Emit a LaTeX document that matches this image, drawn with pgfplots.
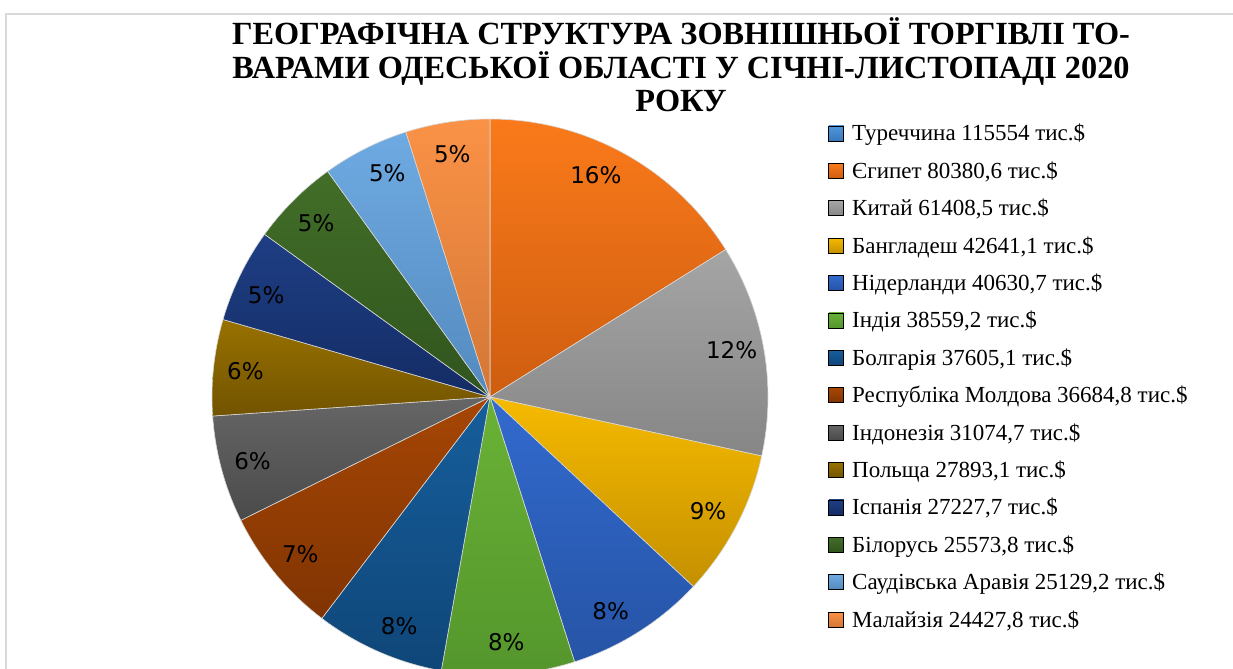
\documentclass[border=0pt]{standalone}
\usepackage{fontspec}
\setmainfont{Liberation Serif}
\newfontfamily\dejavu{DejaVu Sans}
\usepackage{pgfplots}
\pgfplotsset{compat=1.18}

% values, thousand USD
\def\vTurkey{115554}
\def\vEgypt{80380.6}
\def\vChina{61408.5}
\def\vBangladesh{42641.1}
\def\vNetherlands{40630.7}
\def\vIndia{38559.2}
\def\vBulgaria{37605.1}
\def\vMoldova{36684.8}
\def\vIndonesia{31074.7}
\def\vPoland{27893.1}
\def\vSpain{27227.7}
\def\vBelarus{25573.8}
\def\vSaudi{25129.2}
\def\vMalaysia{24427.8}
\edef\total{\fpeval{\vEgypt+\vChina+\vBangladesh+\vNetherlands+\vIndia+\vBulgaria+\vMoldova+\vIndonesia+\vPoland+\vSpain+\vBelarus+\vSaudi+\vMalaysia}}

\definecolor{cTurT}{RGB}{78,150,218}\definecolor{cTurB}{RGB}{58,120,188}
\definecolor{cEgyT}{RGB}{250,122,26}\definecolor{cEgyB}{RGB}{206,93,16}
\definecolor{cChiT}{RGB}{165,165,165}\definecolor{cChiB}{RGB}{134,134,134}
\definecolor{cBanT}{RGB}{246,186,0}\definecolor{cBanB}{RGB}{196,144,0}
\definecolor{cNetT}{RGB}{50,106,206}\definecolor{cNetB}{RGB}{38,84,166}
\definecolor{cIndT}{RGB}{106,178,54}\definecolor{cIndB}{RGB}{84,150,44}
\definecolor{cBulT}{RGB}{22,94,156}\definecolor{cBulB}{RGB}{15,70,120}
\definecolor{cMolT}{RGB}{166,70,4}\definecolor{cMolB}{RGB}{128,52,3}
\definecolor{cInoT}{RGB}{102,102,102}\definecolor{cInoB}{RGB}{74,74,74}
\definecolor{cPolT}{RGB}{152,113,0}\definecolor{cPolB}{RGB}{114,84,0}
\definecolor{cSpaT}{RGB}{30,62,132}\definecolor{cSpaB}{RGB}{20,44,100}
\definecolor{cBelT}{RGB}{66,110,40}\definecolor{cBelB}{RGB}{48,84,30}
\definecolor{cSauT}{RGB}{110,170,226}\definecolor{cSauB}{RGB}{84,138,190}
\definecolor{cMalT}{RGB}{250,146,70}\definecolor{cMalB}{RGB}{212,118,54}
\definecolor{frame}{RGB}{217,217,217}

\newcommand\pctfont{\dejavu\fontsize{11.5pt}{13pt}\selectfont}
\newcommand\legfont{\fontsize{11.5pt}{13pt}\selectfont}
\newcommand\titlefont{\bfseries\fontsize{16.15pt}{17pt}\selectfont}

\def\cum{0}
% #1 offset of the label's angle, #2 value, #3 top colour, #4 bottom colour
\newcommand\slice[4][0]{%
  \edef\sa{\fpeval{\cum/\total*360}}%
  \edef\newcum{\fpeval{\cum+#2}}%
  \edef\sb{\fpeval{\newcum/\total*360}}%
  \xdef\cum{\newcum}%
  \edef\smid{\fpeval{(\sa+\sb)/2+#1}}%
  \edef\lx{\fpeval{490+0.885*278*sind(\smid)}}%
  \edef\ly{\fpeval{397-0.885*278*cosd(\smid)}}%
  \edef\pct{\fpeval{round(100*#2/\total)}}%
  \edef\temp{%
    \noexpand\addplot[top color=#3, bottom color=#4, draw=white!70!gray, line width=0.3pt, domain=\sa:\sb, samples=80, forget plot]
      ({490+278*sin(x)},{397-278*cos(x)}) -- (axis cs:490,397) -- cycle;
    \noexpand\node[font=\noexpand\pctfont, text=black] at (axis cs:\lx,\ly) {\pct\noexpand\%};}%
  \temp}

\begin{document}
\begin{tikzpicture}
\begin{axis}[
  at={(0,0)}, anchor=south west,
  width=616.5pt, height=334.5pt, scale only axis,
  xmin=0, xmax=1233, ymin=0, ymax=669, y dir=reverse,
  hide axis, clip=false,
  legend image code/.code={\path[#1] (0pt,0pt) rectangle (7.5pt,7.5pt);},
  legend style={at={(axis cs:828,124.5)}, anchor=north west, draw=none, fill=none,
    inner sep=0pt, row sep=8.2pt, font=\legfont,
    nodes={inner sep=0pt, text height=8pt, text depth=2.5pt, anchor=base west},
    /tikz/every odd column/.style={column sep=4pt}},
  legend cell align=left,
]
\draw[frame, line width=0.75pt] (axis cs:6,700) -- (axis cs:6,14) -- (axis cs:1300,14);

\slice[-3.5]{\vEgypt}{cEgyT}{cEgyB}
\slice[-1]{\vChina}{cChiT}{cChiB}
\slice{\vBangladesh}{cBanT}{cBanB}
\slice[3]{\vNetherlands}{cNetT}{cNetB}
\slice{\vIndia}{cIndT}{cIndB}
\slice[-2]{\vBulgaria}{cBulT}{cBulB}
\slice{\vMoldova}{cMolT}{cMolB}
\slice{\vIndonesia}{cInoT}{cInoB}
\slice{\vPoland}{cPolT}{cPolB}
\slice[-1.5]{\vSpain}{cSpaT}{cSpaB}
\slice{\vBelarus}{cBelT}{cBelB}
\slice[2]{\vSaudi}{cSauT}{cSauB}
\slice{\vMalaysia}{cMalT}{cMalB}

\addlegendimage{top color=cTurT, bottom color=cTurB}\addlegendentry{Туреччина 115554 тис.\$}
\addlegendimage{top color=cEgyT, bottom color=cEgyB}\addlegendentry{Єгипет 80380,6 тис.\$}
\addlegendimage{top color=cChiT, bottom color=cChiB}\addlegendentry{Китай 61408,5 тис.\$}
\addlegendimage{top color=cBanT, bottom color=cBanB}\addlegendentry{Бангладеш 42641,1 тис.\$}
\addlegendimage{top color=cNetT, bottom color=cNetB}\addlegendentry{Нідерланди 40630,7 тис.\$}
\addlegendimage{top color=cIndT, bottom color=cIndB}\addlegendentry{Індія 38559,2 тис.\$}
\addlegendimage{top color=cBulT, bottom color=cBulB}\addlegendentry{Болгарія 37605,1 тис.\$}
\addlegendimage{top color=cMolT, bottom color=cMolB}\addlegendentry{Республіка Молдова 36684,8 тис.\$}
\addlegendimage{top color=cInoT, bottom color=cInoB}\addlegendentry{Індонезія 31074,7 тис.\$}
\addlegendimage{top color=cPolT, bottom color=cPolB}\addlegendentry{Польща 27893,1 тис.\$}
\addlegendimage{top color=cSpaT, bottom color=cSpaB}\addlegendentry{Іспанія 27227,7 тис.\$}
\addlegendimage{top color=cBelT, bottom color=cBelB}\addlegendentry{Білорусь 25573,8 тис.\$}
\addlegendimage{top color=cSauT, bottom color=cSauB}\addlegendentry{Саудівська Аравія 25129,2 тис.\$}
\addlegendimage{top color=cMalT, bottom color=cMalB}\addlegendentry{Малайзія 24427,8 тис.\$}

\node[anchor=base, font=\titlefont] at (axis cs:681,44) {ГЕОГРАФІЧНА СТРУКТУРА ЗОВНІШНЬОЇ ТОРГІВЛІ ТО-};
\node[anchor=base, font=\titlefont] at (axis cs:681,78) {ВАРАМИ ОДЕСЬКОЇ ОБЛАСТІ У СІЧНІ-ЛИСТОПАДІ 2020};
\node[anchor=base, font=\titlefont] at (axis cs:681,111) {РОКУ};
\end{axis}
\pgfresetboundingbox
\path[use as bounding box] (0,0) rectangle (616.5pt,334.5pt);
\end{tikzpicture}
\end{document}
